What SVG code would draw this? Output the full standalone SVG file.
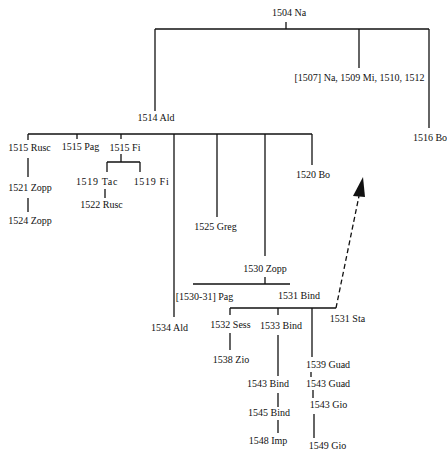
<svg xmlns="http://www.w3.org/2000/svg" width="447" height="450" viewBox="0 0 447 450">
<style>
text{font-family:"Liberation Serif","Times New Roman",serif;font-size:10px;fill:#111;text-anchor:middle}
.w{letter-spacing:0.7px}
line,path{stroke:#111;stroke-width:1.3;fill:none}
.d{stroke-dasharray:5,3}
</style>
<defs>
<marker id="ah" viewBox="0 0 10 10" refX="9" refY="5" markerWidth="6" markerHeight="8" markerUnits="userSpaceOnUse" orient="auto" style="overflow:visible">
<path d="M0,0 L10,5 L0,10 z" style="fill:#111;stroke:none"/>
</marker>
</defs>
<rect width="447" height="450" fill="#fff"/>
<g id="connectors">
<line x1="286" y1="22" x2="286" y2="29"/>
<line x1="155" y1="29" x2="429" y2="29"/>
<line x1="155" y1="29" x2="155" y2="111"/>
<line x1="359" y1="29" x2="359" y2="68"/>
<line x1="429" y1="29" x2="429" y2="128"/>
<line x1="28" y1="134" x2="312" y2="134"/>
<line x1="28" y1="134" x2="28" y2="140"/>
<line x1="77" y1="134" x2="77" y2="139"/>
<line x1="121" y1="134" x2="121" y2="139"/>
<line x1="174" y1="134" x2="174" y2="317"/>
<line x1="217" y1="134" x2="217" y2="217"/>
<line x1="265" y1="134" x2="265" y2="256"/>
<line x1="312" y1="134" x2="312" y2="165"/>
<line x1="28" y1="158" x2="28" y2="177"/>
<line x1="28" y1="198" x2="28" y2="212"/>
<line x1="121" y1="154" x2="121" y2="162"/>
<line x1="107" y1="162" x2="140" y2="162"/>
<line x1="107" y1="162" x2="107" y2="172"/>
<line x1="140" y1="162" x2="140" y2="172"/>
<line x1="105" y1="189" x2="105" y2="198"/>
<line x1="265" y1="277" x2="265" y2="284"/>
<line x1="193" y1="284" x2="290" y2="284"/>
<line x1="230" y1="308" x2="336" y2="308"/>
<line x1="230" y1="308" x2="230" y2="315"/>
<line x1="278" y1="308" x2="278" y2="315"/>
<line x1="312" y1="308" x2="312" y2="357"/>
<line x1="230" y1="333" x2="230" y2="350"/>
<line x1="278" y1="335" x2="278" y2="376"/>
<line x1="278" y1="393" x2="278" y2="407"/>
<line x1="278" y1="420" x2="278" y2="433"/>
<line x1="311" y1="372" x2="311" y2="377"/>
<line x1="313" y1="390" x2="313" y2="398"/>
<line x1="314" y1="414" x2="314" y2="438"/>
<line class="d" x1="336" y1="308" x2="359" y2="196"/>
<path d="M363,177 L353,196 L365,197 z" style="fill:#111;stroke:none"/>
</g>
<g id="n1504"><text x="289" y="16">1504 Na</text></g>
<g id="n1507"><text x="359.5" y="81">[1507] Na, 1509 Mi, 1510, 1512</text></g>
<g id="n1514"><text x="156" y="121">1514 Ald</text></g>
<g id="n1516"><text x="430" y="141">1516 Bo</text></g>
<g id="n1515r"><text x="29.5" y="151">1515 Rusc</text></g>
<g id="n1515p"><text x="80.5" y="150">1515 Pag</text></g>
<g id="n1515f"><text x="125" y="151">1515 Fi</text></g>
<g id="n1519t"><text class="w" x="97" y="185">1519 Tac</text></g>
<g id="n1519f"><text class="w" x="151.5" y="185">1519 Fi</text></g>
<g id="n1522"><text x="101.5" y="208">1522 Rusc</text></g>
<g id="n1521"><text x="30" y="191">1521 Zopp</text></g>
<g id="n1524"><text x="30" y="224">1524 Zopp</text></g>
<g id="n1525"><text x="215.5" y="230">1525 Greg</text></g>
<g id="n1520"><text x="313" y="178">1520 Bo</text></g>
<g id="n1530"><text x="265" y="272">1530 Zopp</text></g>
<g id="n1530p"><text x="204.5" y="300">[1530-31] Pag</text></g>
<g id="n1531b"><text x="299" y="299">1531 Bind</text></g>
<g id="n1534"><text x="169.5" y="331">1534 Ald</text></g>
<g id="n1532"><text x="230.5" y="328">1532 Sess</text></g>
<g id="n1533"><text x="281" y="329">1533 Bind</text></g>
<g id="n1531s"><text x="347.5" y="322">1531 Sta</text></g>
<g id="n1538"><text x="231" y="363">1538 Zio</text></g>
<g id="n1543b"><text x="268" y="387">1543 Bind</text></g>
<g id="n1545"><text x="269" y="416">1545 Bind</text></g>
<g id="n1548"><text x="268" y="444">1548 Imp</text></g>
<g id="n1539"><text x="328" y="368">1539 Guad</text></g>
<g id="n1543g"><text x="328" y="387">1543 Guad</text></g>
<g id="n1543gio"><text x="328.5" y="408">1543 Gio</text></g>
<g id="n1549"><text x="327.5" y="449">1549 Gio</text></g>
</svg>
